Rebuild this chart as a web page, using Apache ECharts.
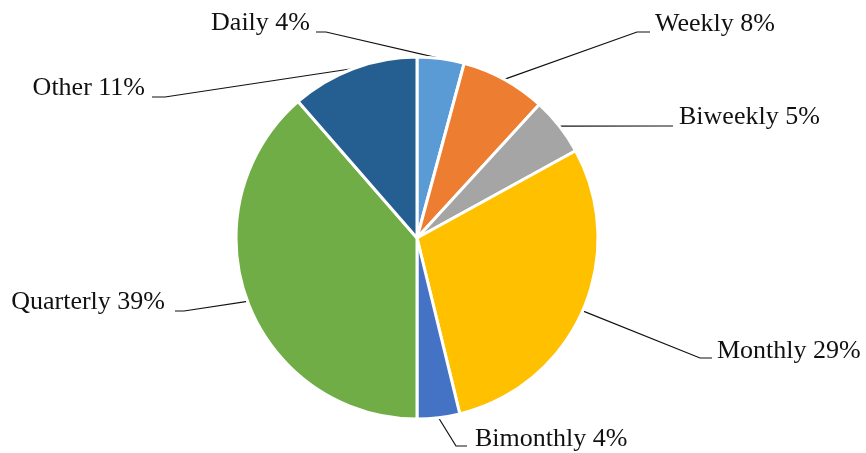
<!DOCTYPE html>
<html>
<head>
<meta charset="utf-8">
<script src="https://cdn.jsdelivr.net/npm/echarts@6/dist/echarts.min.js"></script>
<style>
html,body{margin:0;padding:0;background:#fff;}
#c{width:866px;height:453px;}
</style>
</head>
<body>
<div id="c"></div>
<script>
// Data
const categories = ['Daily', 'Weekly', 'Biweekly', 'Monthly', 'Bimonthly', 'Quarterly', 'Other'];
const values = [4.2, 7.6, 5.2, 29.2, 3.8, 38.6, 11.4];
const colors = ['#5B9BD5', '#ED7D31', '#A5A5A5', '#FFC000', '#4472C4', '#70AD47', '#255E91'];

// Label placement (style only): text anchor, alignment, and leader end point
const labelPlacement = [
  { tx: 310, ty: 23, align: 'right', ex: 316, ey: 32, bx: 326 },
  { tx: 655, ty: 24, align: 'left',  ex: 650, ey: 32, bx: 637 },
  { tx: 679, ty: 117, align: 'left', ex: 673, ey: 126, bx: 663 },
  { tx: 717, ty: 351, align: 'left', ex: 712, ey: 358, bx: 700 },
  { tx: 475, ty: 439, align: 'left', ex: 467, ey: 446, bx: 456 },
  { tx: 165, ty: 302, align: 'right', ex: 175, ey: 311, bx: 184 },
  { tx: 145, ty: 88, align: 'right', ex: 152, ey: 97, bx: 165 }
];

const chart = echarts.init(document.getElementById('c'), null, { renderer: 'canvas' });
chart.setOption({
  animation: false,
  backgroundColor: '#ffffff',
  series: [{
    type: 'pie',
    center: [417, 238],
    radius: [0, 181],
    startAngle: 90,
    clockwise: true,
    avoidLabelOverlap: false,
    data: categories.map((c, i) => ({ name: c, value: values[i], itemStyle: { color: colors[i] } })),
    itemStyle: { borderColor: '#ffffff', borderWidth: 3 },
    label: {
      show: true,
      formatter: p => p.name + ' ' + Math.round(p.value) + '%',
      fontFamily: '"Liberation Serif", "Times New Roman", serif',
      fontSize: 26,
      color: '#111111'
    },
    labelLine: {
      show: true,
      length: 20,
      length2: 10,
      lineStyle: { color: '#111111', width: 1.2 }
    },
    labelLayout: function (params) {
      const lp = labelPlacement[params.dataIndex];
      const start = params.labelLinePoints ? params.labelLinePoints[0] : [lp.bx, lp.ey];
      return {
        x: lp.tx,
        y: lp.ty,
        align: lp.align,
        verticalAlign: 'middle',
        labelLinePoints: [start, [lp.bx, lp.ey], [lp.ex, lp.ey]]
      };
    },
    emphasis: { disabled: true }
  }]
});
</script>
</body>
</html>
